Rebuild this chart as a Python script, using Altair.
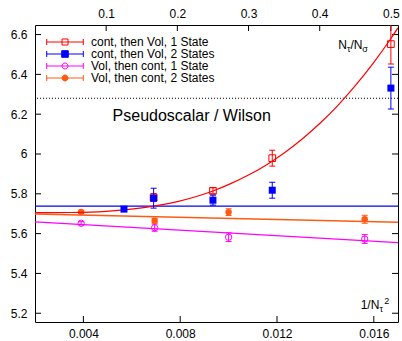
import altair as alt
import pandas as pd

# ---- data ----
# bottom axis: 1/N_tau^2  ("Vol, then cont")
vol_x = [0.003906, 0.006944, 0.010000, 0.015625]
vol1_y = [5.652, 5.630, 5.582, 5.573]
vol1_err = [0.008, 0.018, 0.022, 0.022]
vol2_y = [5.709, 5.665, 5.708, 5.672]
vol2_err = [0.006, 0.012, 0.017, 0.020]

# top axis: N_tau/N_sigma  ("cont, then Vol")
cont1_t = [1 / 6, 1 / 4, 1 / 3, 1 / 2]
cont1_y = [5.781, 5.815, 5.979, 6.552]
cont1_err = [0.020, 0.015, 0.040, 0.100]
cont2_t = [1 / 8, 1 / 6, 1 / 4, 1 / 3, 1 / 2]
cont2_y = [5.723, 5.778, 5.768, 5.818, 6.331]
cont2_err = [0.010, 0.050, 0.025, 0.040, 0.105]

# fit curves
fit1_t = [0.0, 0.05, 0.1, 0.125, 0.15, 0.175, 0.2, 0.25, 0.275, 0.3, 0.325,
          0.35, 0.375, 0.4, 0.425, 0.45, 0.475, 0.5, 0.51]
fit1_y = [5.705, 5.706, 5.712, 5.719, 5.729, 5.743, 5.761, 5.814, 5.851, 5.894,
          5.945, 6.005, 6.074, 6.153, 6.242, 6.343, 6.455, 6.580, 6.634]
fit2_level = 5.738
vol1_fit_x = [0.002, 0.017]
vol1_fit_y = [5.659, 5.555]
vol2_fit_x = [0.002, 0.017]
vol2_fit_y = [5.699, 5.657]
ref_level = 6.28

x_ticks = [0.004, 0.008, 0.012, 0.016]
t_ticks = [0.1, 0.2, 0.3, 0.4, 0.5]
y_ticks = [5.2, 5.4, 5.6, 5.8, 6.0, 6.2, 6.4, 6.6]

series = ["cont, then Vol, 1 State", "cont, then Vol, 2 States",
          "Vol, then cont, 1 State", "Vol, then cont, 2 States"]
colors = ["#ff0000", "#0000ff", "#ff00ff", "#ff5a14"]

FONT = "Liberation Sans"
W, H = 363, 297

xscale = alt.Scale(domain=[0.002, 0.017], nice=False, zero=False)
tscale = alt.Scale(domain=[0.0, 0.51], nice=False, zero=False)
yscale = alt.Scale(domain=[5.156, 6.648], nice=False, zero=False)

xaxis = alt.Axis(orient="bottom", values=x_ticks, format="~g", ticks=False,
                 tickSize=0, domain=False, grid=False, labelPadding=6, title=None)
taxis = alt.Axis(orient="top", values=t_ticks, format="~g", ticks=False,
                 tickSize=0, domain=False, grid=False, labelPadding=5, title=None)
yaxis = alt.Axis(orient="left", values=y_ticks, format="~g", ticks=False,
                 tickSize=0, domain=False, grid=False, labelPadding=8, title=None)


def X(field, scale):
    return alt.X(f"{field}:Q", scale=scale, axis=xaxis if scale is xscale else taxis)


def Y(field):
    return alt.Y(f"{field}:Q", scale=yscale, axis=yaxis)


def errlayers(df, xf, scale, color, shape, filled, size):
    base = alt.Chart(df).transform_calculate(lo="datum.y - datum.err",
                                             hi="datum.y + datum.err")
    bar = base.mark_rule(color=color, strokeWidth=1, clip=True, opacity=1).encode(
        x=X(xf, scale), y=Y("lo"), y2="hi:Q")
    lo = base.mark_tick(color=color, orient="horizontal", size=6, thickness=1,
                        clip=True, opacity=1).encode(x=X(xf, scale), y=Y("lo"))
    hi = base.mark_tick(color=color, orient="horizontal", size=6, thickness=1,
                        clip=True, opacity=1).encode(x=X(xf, scale), y=Y("hi"))
    pt = base.mark_point(shape=shape, filled=filled, color=color, size=size,
                         strokeWidth=1, opacity=1, clip=True).encode(
        x=X(xf, scale), y=Y("y"))
    return [bar, lo, hi, pt]


vol1_df = pd.DataFrame({"x": vol_x, "y": vol1_y, "err": vol1_err})
vol2_df = pd.DataFrame({"x": vol_x, "y": vol2_y, "err": vol2_err})
cont1_df = pd.DataFrame({"t": cont1_t, "y": cont1_y, "err": cont1_err})
cont2_df = pd.DataFrame({"t": cont2_t, "y": cont2_y, "err": cont2_err})

# ---- bottom-axis group ----
xt_df = pd.DataFrame({"x": x_ticks})
xtick_layer = alt.Chart(xt_df).mark_rule(color="black", strokeWidth=1).encode(
    x=X("x", xscale), y=alt.value(H), y2=alt.value(H - 6))
yt_df = pd.DataFrame({"y": y_ticks})
ytick_left = alt.Chart(yt_df).mark_rule(color="black", strokeWidth=1).encode(
    y=Y("y"), x=alt.value(0), x2=alt.value(6))
ytick_right = alt.Chart(yt_df).mark_rule(color="black", strokeWidth=1).encode(
    y=Y("y"), x=alt.value(W - 6), x2=alt.value(W))

vol1_fit = alt.Chart(pd.DataFrame({"x": vol1_fit_x, "y": vol1_fit_y})).mark_line(
    color=colors[2], strokeWidth=1.2, clip=True).encode(x=X("x", xscale), y=Y("y"))
vol2_fit = alt.Chart(pd.DataFrame({"x": vol2_fit_x, "y": vol2_fit_y})).mark_line(
    color=colors[3], strokeWidth=1.5, clip=True).encode(x=X("x", xscale), y=Y("y"))

# legend (symbols drawn as error bar + marker); its points lie outside the plot
r = "M-6.1,0H6.1M-6.1,-1V1M6.1,-1V1"
paths = [r + "M-1,-1H1V1H-1Z", r + "M-1.1,-1.1H1.1V1.1H-1.1Z",
         r + "M1,0A1,1,0,1,1,-1,0A1,1,0,1,1,1,0Z",
         r + "M1,0A1,1,0,1,1,-1,0A1,1,0,1,1,1,0Z"]
fills = ["transparent", colors[1], "transparent", colors[3]]
leg = alt.Legend(title=None, orient="none", legendX=24, legendY=11,
                 labelFontSize=12, labelFont=FONT, labelColor="black",
                 labelOffset=20, symbolSize=36, symbolStrokeWidth=1,
                 rowPadding=0, padding=0, labelLimit=300)
legend_df = pd.DataFrame({"series": series, "x": [-1.0] * 4, "y": [6.0] * 4})
legend_layer = alt.Chart(legend_df).mark_point(clip=True, opacity=1, strokeWidth=1).encode(
    x=X("x", xscale), y=Y("y"),
    shape=alt.Shape("series:N", scale=alt.Scale(domain=series, range=paths), legend=leg),
    stroke=alt.Stroke("series:N", scale=alt.Scale(domain=series, range=colors), legend=leg),
    fill=alt.Fill("series:N", scale=alt.Scale(domain=series, range=fills), legend=leg),
)

bottom_group = alt.layer(
    xtick_layer, ytick_left, ytick_right, vol1_fit, vol2_fit,
    *errlayers(vol1_df, "x", xscale, colors[2], "circle", False, 40),
    *errlayers(vol2_df, "x", xscale, colors[3], "circle", True, 42),
    legend_layer,
)

# ---- top-axis group ----
tt_df = pd.DataFrame({"t": t_ticks})
ttick_layer = alt.Chart(tt_df).mark_rule(color="black", strokeWidth=1).encode(
    x=X("t", tscale), y=alt.value(0), y2=alt.value(6))
fit1 = alt.Chart(pd.DataFrame({"t": fit1_t, "y": fit1_y})).mark_line(
    color=colors[0], strokeWidth=1.2, clip=True, interpolate="monotone").encode(
    x=X("t", tscale), y=Y("y"))
fit2 = alt.Chart(pd.DataFrame({"y": [fit2_level]})).mark_rule(
    color=colors[1], strokeWidth=1.2).encode(y=Y("y"))
ref = alt.Chart(pd.DataFrame({"y": [ref_level]})).mark_rule(
    color="black", strokeWidth=1, strokeDash=[1, 2]).encode(y=Y("y"))

one = pd.DataFrame({"a": [0]})


def txt(s, x, y, size, align="left"):
    return alt.Chart(one).mark_text(text=s, font=FONT, fontSize=size, color="black",
                                    align=align, baseline="alphabetic").encode(
        x=alt.value(x), y=alt.value(y))


texts = [
    txt("Pseudoscalar / Wilson", 156.7, 96.4, 16, "center"),
    txt("N", 303.3, 24.2, 12), txt("τ", 311.9, 27.2, 9),
    txt("/N", 315.5, 24.2, 12), txt("σ", 327.3, 27.2, 9),
    txt("1/N", 325.7, 284.2, 12), txt("τ", 344.4, 287.2, 9),
    txt("2", 349.3, 278.6, 9),
]

top_group = alt.layer(
    ttick_layer, ref, fit2, fit1,
    *errlayers(cont1_df, "t", tscale, colors[0], "square", False, 45),
    *errlayers(cont2_df, "t", tscale, colors[1], "square", True, 49),
    *texts,
)

chart = alt.layer(bottom_group, top_group).resolve_scale(x="independent").properties(
    width=W, height=H,
    padding={"left": 35, "top": 25, "right": 4, "bottom": 19},
    autosize=alt.AutoSizeParams(type="none"),
    background="white",
).configure_view(stroke="black", strokeWidth=1).configure_axis(
    labelFont=FONT, labelFontSize=12, labelColor="black")

chart.save("out.html", embed_options={"renderer": "svg", "actions": False})
